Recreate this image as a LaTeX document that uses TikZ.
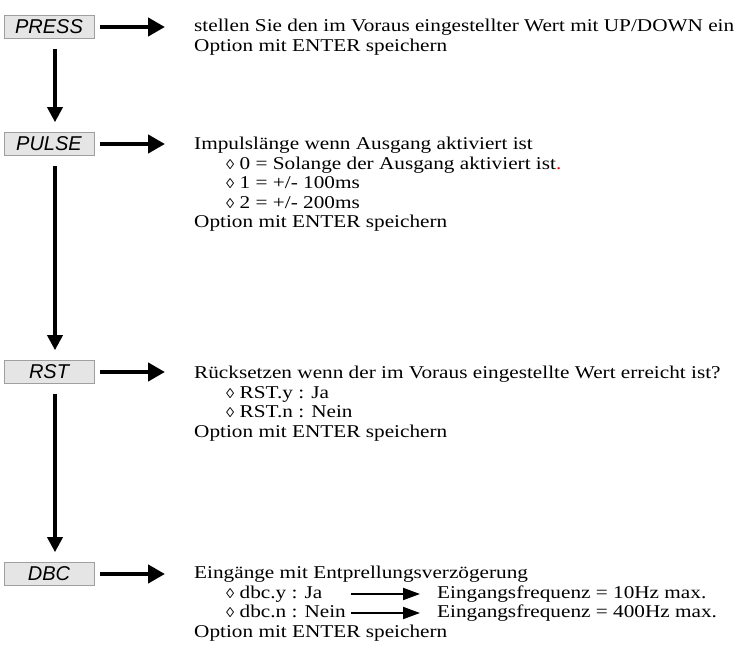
\documentclass[tikz,border=0pt]{standalone}
\usepackage{fontspec}
\setmainfont{Liberation Serif}[FakeStretch=1.18]
\setsansfont{Liberation Sans}
\usetikzlibrary{arrows.meta}
\usetikzlibrary{positioning}
\pgfmathsetmacro{\mytx}{194}
\pgfmathsetmacro{\myix}{226}
\pgfmathsetmacro{\myfx}{437}
\newlength{\mygap}
\setlength{\mygap}{6pt}

\tikzset{
  lcd/.style={draw=gray!75, fill=gray!20, line width=0.6pt, minimum width=90pt, minimum height=23pt,
    inner sep=0pt, font=\sffamily\itshape\fontsize{20}{20}\selectfont},
  txt/.style={anchor=west, inner sep=0pt, text height=12pt, text depth=4pt,
    font=\fontsize{18}{20}\selectfont},
  bigarrow/.style={line width=4.5pt, -{Triangle[length=17pt,width=18pt]}},
  downarrow/.style={line width=3.5pt, -{Triangle[length=15pt,width=15pt]}},
  smallarrow/.style={line width=2pt, -{Triangle[length=17pt,width=12pt]}}
}
\newcommand{\loz}{{\fontsize{14}{14}\selectfont\char"25CA}\ }

\begin{document}
\begin{tikzpicture}[x=1pt, y=-1pt]
\useasboundingbox (0,0) rectangle (756,650);

% display boxes
\node[lcd] (press) at (49,27) {PRESS};
\node[lcd] (pulse) at (49,144) {PULSE};
\node[lcd] (rst) at (49,372) {RST};
\node[lcd] (dbc) at (49,574) {DBC};

% PRESS
\node[txt] (press1) at (\mytx,28) {stellen Sie den im Voraus eingestellter Wert mit UP/DOWN ein};
\node[txt] (press2) at (\mytx,48) {Option mit ENTER speichern};

% PULSE
\node[txt] (pulse1) at (\mytx,146) {Impulslänge wenn Ausgang aktiviert ist};
\node[txt] (pulse2) at (\myix,166) {\loz 0 = Solange der Ausgang aktiviert ist{\color{red}.}};
\node[txt] (pulse3) at (\myix,185) {\loz 1 = +/- 100ms};
\node[txt] (pulse4) at (\myix,205) {\loz 2 = +/- 200ms};
\node[txt] (pulse5) at (\mytx,224) {Option mit ENTER speichern};

% RST
\node[txt] (rst1) at (\mytx,374) {Rücksetzen wenn der im Voraus eingestellte Wert erreicht ist?};
\node[txt] (rst2) at (\myix,394) {\loz RST.y : Ja};
\node[txt] (rst3) at (\myix,413) {\loz RST.n : Nein};
\node[txt] (rst4) at (\mytx,433) {Option mit ENTER speichern};

% DBC
\node[txt] (dbc1) at (\mytx,574) {Eingänge mit Entprellungsverzögerung};
\node[txt] (dbc2) at (\myix,594) {\loz dbc.y : Ja};
\node[txt] (dbc3) at (\myix,613) {\loz dbc.n : Nein};
\node[txt] (dbc4) at (\mytx,633) {Option mit ENTER speichern};
\node[txt] (freq1) at (\myfx,594) {Eingangsfrequenz = 10Hz max.};
\node[txt] (freq2) at (\myfx,613) {Eingangsfrequenz = 400Hz max.};

% arrows
\draw[bigarrow, shorten <=\mygap, shorten >=29pt] (press.east) -- (press1.west |- press.east);
\draw[bigarrow, shorten <=\mygap, shorten >=29pt] (pulse.east) -- (pulse1.west |- pulse.east);
\draw[bigarrow, shorten <=\mygap, shorten >=29pt] (rst.east) -- (rst1.west |- rst.east);
\draw[bigarrow, shorten <=\mygap, shorten >=29pt] (dbc.east) -- (dbc1.west |- dbc.east);

\draw[downarrow, shorten <=10pt, shorten >=10pt] ([xshift=6pt]press.south) -- ([xshift=6pt]pulse.north);
\draw[downarrow, shorten <=10pt, shorten >=10pt] ([xshift=6pt]pulse.south) -- ([xshift=6pt]rst.north);
\draw[downarrow, shorten <=10pt, shorten >=10pt] ([xshift=6pt]rst.south) -- ([xshift=6pt]dbc.north);

\draw[smallarrow, shorten >=17pt] ([xshift=5pt]dbc3.east |- dbc2.east) -- (freq1.west);
\draw[smallarrow, shorten <=5pt, shorten >=17pt] (dbc3.east) -- (freq2.west);
\end{tikzpicture}
\end{document}
